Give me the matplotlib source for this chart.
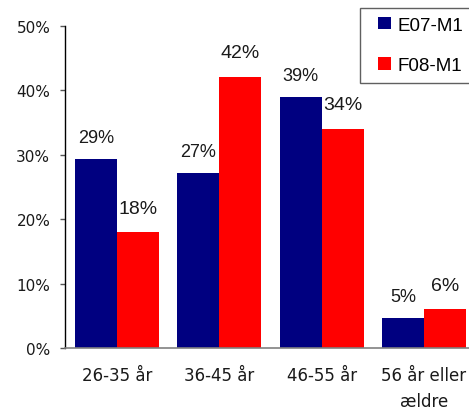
import numpy as np
import matplotlib
matplotlib.use("Agg")
import matplotlib.pyplot as plt
from matplotlib.patches import Rectangle
from matplotlib.container import BarContainer
from matplotlib.legend_handler import HandlerPatch, update_from_first_child

# Age groups and share of respondents per survey round
age_groups = ["26-35 år", "36-45 år", "46-55 år", "56 år eller\nældre"]
e07_m1 = [29.4, 27.2, 39.0, 4.7]
f08_m1 = [18.0, 42.1, 34.0, 6.0]
series_names = ["E07-M1", "F08-M1"]
y_ticks = [0, 10, 20, 30, 40, 50]

NAVY = "#000080"
RED = "#ff0000"


def square_handle(legend, orig_handle, xdescent, ydescent, width, height, fontsize):
    """Small square pushed to the right edge of the handle box."""
    side = 0.69 * fontsize
    return Rectangle((-xdescent + width - side, -ydescent + (height - side) / 2), side, side)


fig = plt.figure(figsize=(4.69, 4.10), dpi=100)
ax = fig.add_axes([0.1386, 0.1488, 0.8614, 0.7854])

x = np.arange(len(age_groups))
w = 0.41
bars_e = ax.bar(x - w / 2, e07_m1, width=w, color=NAVY, label=series_names[0])
bars_f = ax.bar(x + w / 2, f08_m1, width=w, color=RED, label=series_names[1])

for rect, v in zip(bars_e, e07_m1):
    ax.annotate(f"{round(v)}%", (rect.get_x() + rect.get_width() / 2, v),
                xytext=(0, 15), textcoords="offset points", ha="center", va="center",
                fontsize=13, family="Liberation Sans", color="#1a1a1a")
for rect, v in zip(bars_f, f08_m1):
    ax.annotate(f"{round(v)}%", (rect.get_x() + rect.get_width() / 2, v),
                xytext=(0, 17.3), textcoords="offset points", ha="center", va="center",
                fontsize=14, family="Liberation Sans", color="#1a1a1a")

ax.set_xlim(-0.508, 3.44)
ax.set_ylim(0, 50)
ax.set_yticks(y_ticks)
ax.set_yticklabels([f"{t}%" for t in y_ticks], fontsize=11, color="#1a1a1a")
ax.set_xticks(x)
ax.set_xticklabels(age_groups, fontsize=12, color="#1a1a1a", linespacing=1.6)
ax.tick_params(axis="x", length=0, pad=13)
ax.tick_params(axis="y", length=3.6, width=1, color="#555555", pad=7)

for side in ("top", "right"):
    ax.spines[side].set_visible(False)
ax.spines["left"].set_color("black")
ax.spines["left"].set_linewidth(1)
ax.spines["bottom"].set_color("#808080")
ax.spines["bottom"].set_linewidth(1.2)

square = HandlerPatch(patch_func=square_handle, update_func=update_from_first_child)
leg = ax.legend(loc="upper left", bbox_to_anchor=(360 / 469, 1 - 9 / 410),
                bbox_transform=fig.transFigure, borderaxespad=0,
                prop={"family": "Liberation Sans", "size": 13.5},
                handler_map={BarContainer: square},
                handlelength=1.2, handleheight=0.7, handletextpad=0.37,
                labelspacing=1.25, borderpad=0.45, fancybox=False, framealpha=1)
leg.get_frame().set_edgecolor("#606060")
leg.get_frame().set_linewidth(1)

fig.savefig("out.png", dpi=100)
